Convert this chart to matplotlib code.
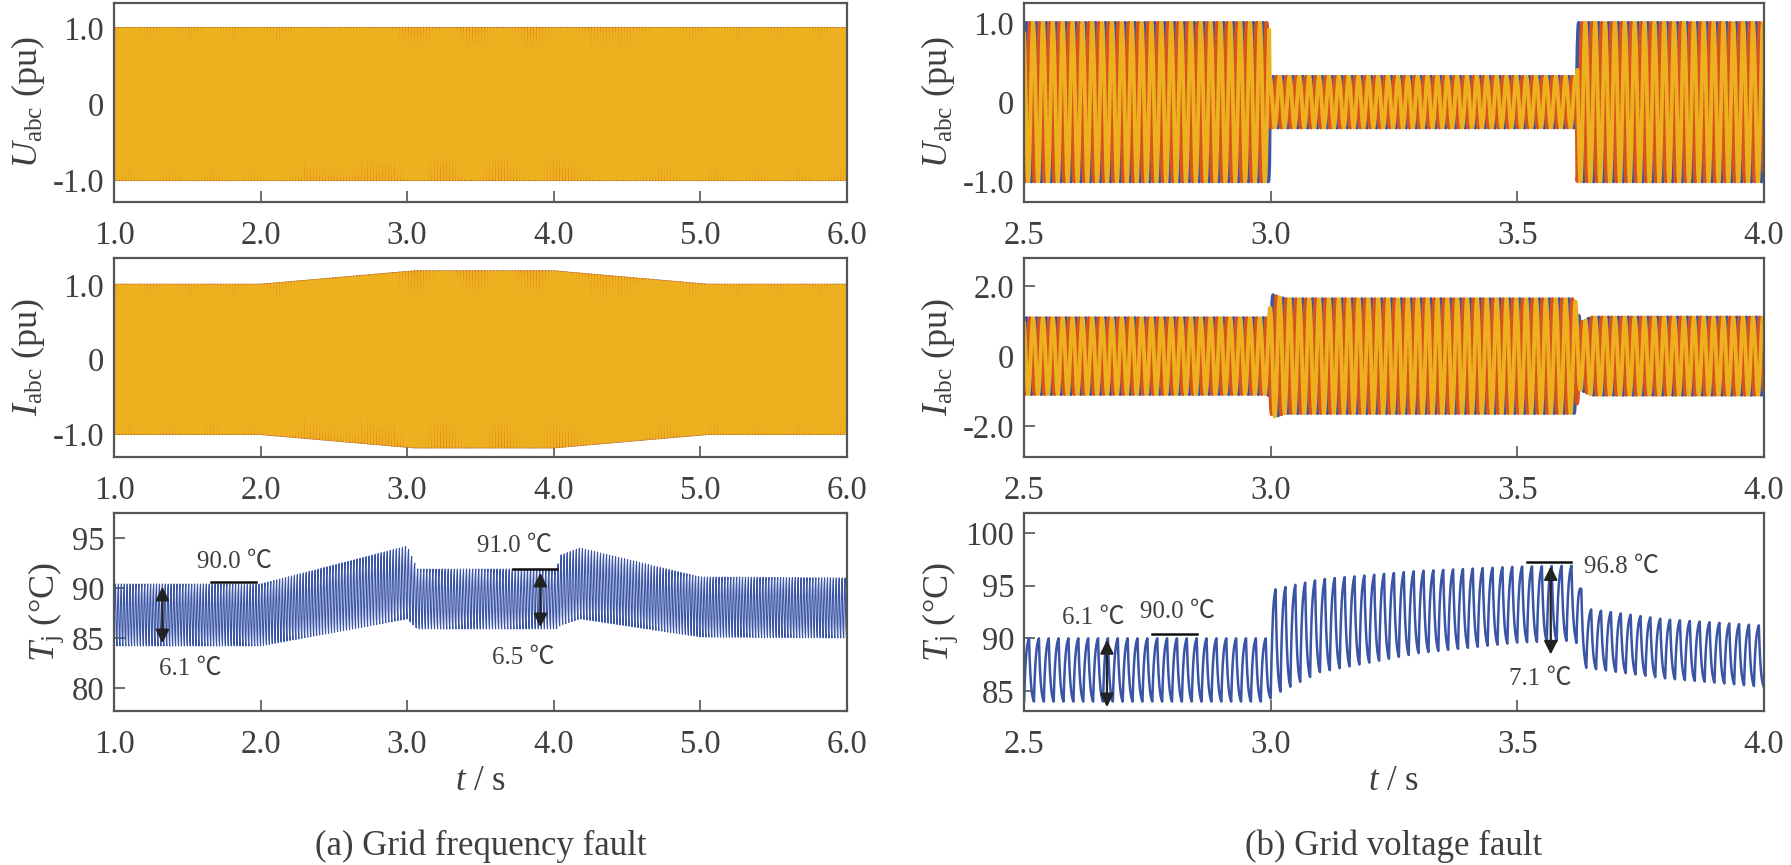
import numpy as np
import matplotlib
matplotlib.use("Agg")
from matplotlib import pyplot as plt

plt.rcParams['font.family'] = ['Liberation Serif', 'DejaVu Serif']
plt.rcParams['mathtext.fontset'] = 'custom'
plt.rcParams['mathtext.rm'] = 'Liberation Serif'
plt.rcParams['mathtext.it'] = 'Liberation Serif:italic'
plt.rcParams['text.color'] = '#3f3f3f'
plt.rcParams['axes.labelcolor'] = '#3f3f3f'

# ---- (a) grid frequency fault: envelopes ----
fa_t = [1.0, 2.0, 3.0, 4.0, 5.0, 6.0]          # grid frequency (Hz)
fa_f = [50.0, 50.0, 48.0, 48.0, 50.0, 50.0]
ua_t = [1.0, 6.0]                              # voltage amplitude (pu)
ua_v = [1.0, 1.0]
ia_t = [1.0, 2.0, 3.05, 4.0, 5.05, 6.0]        # current amplitude (pu)
ia_v = [1.0, 1.0, 1.18, 1.18, 1.0, 1.0]
tja_t = [1.0, 2.0, 3.0, 3.07, 4.02, 4.05, 4.18, 5.0, 6.0]
tja_hi = [90.4, 90.4, 94.2, 91.9, 91.9, 93.3, 94.0, 91.1, 91.0]
tja_lo = [84.2, 84.2, 86.9, 85.9, 85.9, 86.3, 86.9, 85.1, 85.0]

# ---- (b) grid voltage fault ----
fb = 50.0
ub_t = [2.5, 2.997, 2.998, 3.621, 3.622, 4.0]
ub_v = [1.0, 1.0, 0.32, 0.32, 1.0, 1.0]
ib_t = [2.5, 2.995, 3.003, 3.03, 3.617, 3.628, 3.65, 4.0]
ib_v = [1.08, 1.08, 1.74, 1.62, 1.62, 0.95, 1.1, 1.1]
tjb_t = [2.5, 2.995, 3.005, 3.1, 3.3, 3.5, 3.618, 3.64, 3.8, 4.0]
tjb_hi = [90.0, 90.0, 94.6, 95.6, 96.4, 96.8, 96.9, 92.8, 91.8, 91.2]
tjb_lo = [84.0, 84.0, 84.6, 86.8, 88.6, 89.6, 89.8, 87.2, 86.2, 85.4]

xticks_a = [1.0, 2.0, 3.0, 4.0, 5.0, 6.0]
xticks_b = [2.5, 3.0, 3.5, 4.0]

c_a, c_b, c_c = '#3b55a5', '#d9541c', '#edb120'
c_tj = '#3a54a6'
grey = '#555555'
TICK, LAB, ANN = 23.5, 26, 18
ann_font = ['Liberation Serif', 'Noto Sans CJK SC', 'DejaVu Sans']


def phase(t, kt, kf):
    f = np.interp(t, kt, kf)
    return 2 * np.pi * np.concatenate([[0], np.cumsum(f[:-1] * np.diff(t))])


def thermal(ph):
    # one conduction cycle: heating over half a period, cooling over the rest
    p = (ph / (2 * np.pi)) % 1.0
    tau = 0.18
    k = 1 - np.exp(-0.5 / tau)
    up = (1 - np.exp(-p / tau)) / k
    dn = (np.exp(-(p - 0.5) / tau) - np.exp(-0.5 / tau)) / k
    return np.where(p < 0.5, up, dn)


ta = np.linspace(1.0, 6.0, 30001)
pa = phase(ta, fa_t, fa_f)
tb = np.linspace(2.5, 4.0, 30001)
pb = 2 * np.pi * fb * (tb - 2.5)

fig = plt.figure(figsize=(17.91, 8.65), dpi=100)
left_x, left_w = 0.0637, 0.409
right_x, right_w = 0.5718, 0.413
rows = [(0.7665, 0.2300), (0.4717, 0.2300), (0.1780, 0.2290)]


def style(ax, xlim, xticks, ylim, yticks, ylabels):
    ax.set_xlim(xlim)
    ax.set_ylim(ylim)
    ax.set_xticks(xticks, ['%.1f' % v for v in xticks])
    ax.set_yticks(yticks, ylabels)
    ax.tick_params(direction='in', length=8, width=1.2, color=grey,
                   labelsize=TICK, labelcolor='#3f3f3f', top=False, right=False)
    ax.tick_params(axis='x', pad=13)
    ax.tick_params(axis='y', pad=7)
    for s in ax.spines.values():
        s.set_color(grey)
        s.set_linewidth(1.6)


def three_phase(ax, t, ph, amp, lw):
    for k, col in enumerate([c_a, c_b, c_c]):
        ax.plot(t, amp * np.sin(ph - 2 * np.pi * k / 3), c=col, lw=lw)


def note(ax, x, y, s, **kw):
    ax.text(x, y, s, fontsize=ANN, family=ann_font, **kw)


def span(ax, x, y0, y1):
    ax.annotate('', xy=(x, y0), xytext=(x, y1),
                arrowprops=dict(arrowstyle='<|-|>', color='#222222', lw=1.6, mutation_scale=20))


# column (a)
ax = fig.add_axes([left_x, rows[0][0], left_w, rows[0][1]])
three_phase(ax, ta, pa, np.interp(ta, ua_t, ua_v), 1.7)
style(ax, (1.0, 6.0), xticks_a, (-1.29, 1.33), [-1, 0, 1], ['-1.0', '0', '1.0'])
ax.set_ylabel(r'$U_{\rm abc}$ (pu)', fontsize=LAB)

ax = fig.add_axes([left_x, rows[1][0], left_w, rows[1][1]])
three_phase(ax, ta, pa, np.interp(ta, ia_t, ia_v), 1.7)
style(ax, (1.0, 6.0), xticks_a, (-1.31, 1.36), [-1, 0, 1], ['-1.0', '0', '1.0'])
ax.set_ylabel(r'$I_{\rm abc}$ (pu)', fontsize=LAB)

ax = fig.add_axes([left_x, rows[2][0], left_w, rows[2][1]])
hi = np.interp(ta, tja_t, tja_hi)
lo = np.interp(ta, tja_t, tja_lo)
ax.plot(ta, lo + (hi - lo) * thermal(pa), c=c_tj, lw=0.8)
style(ax, (1.0, 6.0), xticks_a, (77.7, 97.5), [80, 85, 90, 95], ['80', '85', '90', '95'])
ax.set_ylabel(r'$T_{\rm j}$ (°C)', fontsize=LAB)
ax.set_xlabel(r'$t$ / s', fontsize=25, labelpad=4)
ax.plot([1.66, 1.97], [90.6, 90.6], c='#111111', lw=1.8)
note(ax, 1.82, 92.0, '90.0 ℃', ha='center')
span(ax, 1.33, 84.2, 90.4)
note(ax, 1.52, 81.3, '6.1 ℃', ha='center')
ax.plot([3.72, 4.02], [91.85, 91.85], c='#111111', lw=1.8)
note(ax, 3.73, 93.6, '91.0 ℃', ha='center')
span(ax, 3.91, 85.8, 91.8)
note(ax, 3.79, 82.4, '6.5 ℃', ha='center')

# column (b)
ax = fig.add_axes([right_x, rows[0][0], right_w, rows[0][1]])
three_phase(ax, tb, pb, np.interp(tb, ub_t, ub_v), 2.8)
style(ax, (2.5, 4.0), xticks_b, (-1.26, 1.25), [-1, 0, 1], ['-1.0', '0', '1.0'])
ax.set_ylabel(r'$U_{\rm abc}$ (pu)', fontsize=LAB)

ax = fig.add_axes([right_x, rows[1][0], right_w, rows[1][1]])
three_phase(ax, tb, pb, np.interp(tb, ib_t, ib_v), 2.8)
style(ax, (2.5, 4.0), xticks_b, (-2.87, 2.79), [-2, 0, 2], ['-2.0', '0', '2.0'])
ax.set_ylabel(r'$I_{\rm abc}$ (pu)', fontsize=LAB)

ax = fig.add_axes([right_x, rows[2][0], right_w, rows[2][1]])
hi = np.interp(tb, tjb_t, tjb_hi)
lo = np.interp(tb, tjb_t, tjb_lo)
ax.plot(tb, lo + (hi - lo) * thermal(pb), c=c_tj, lw=1.8)
style(ax, (2.5, 4.0), xticks_b, (83.1, 101.9), [85, 90, 95, 100], ['85', '90', '95', '100'])
ax.set_ylabel(r'$T_{\rm j}$ (°C)', fontsize=LAB)
ax.set_xlabel(r'$t$ / s', fontsize=25, labelpad=4)
span(ax, 2.668, 83.2, 90.1)
note(ax, 2.64, 91.4, '6.1 ℃', ha='center')
ax.plot([2.76, 2.85], [90.4, 90.4], c='#111111', lw=1.8)
note(ax, 2.81, 91.9, '90.0 ℃', ha='center')
ax.plot([3.52, 3.61], [97.2, 97.2], c='#111111', lw=1.8)
note(ax, 3.635, 96.8, '96.8 ℃', ha='left', va='center')
span(ax, 3.568, 88.2, 97.1)
note(ax, 3.547, 85.6, '7.1 ℃', ha='center')

fig.text(left_x + left_w / 2, 0.012, '(a) Grid frequency fault', fontsize=25, ha='center')
fig.text(right_x + right_w / 2, 0.012, '(b) Grid voltage fault', fontsize=25, ha='center')

fig.savefig('out.png', dpi=100)
